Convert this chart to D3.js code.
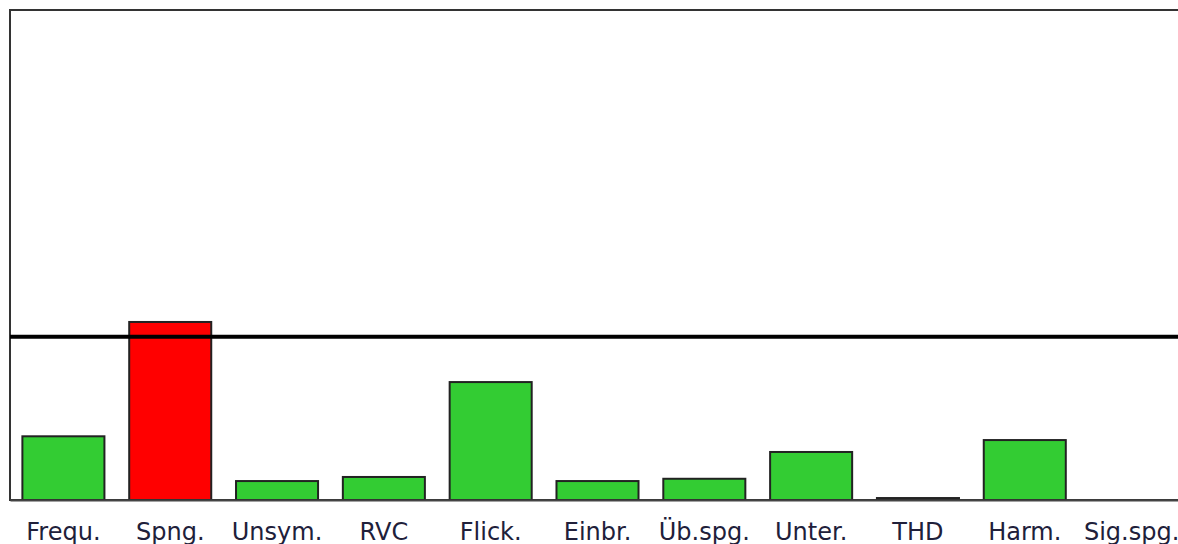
<!DOCTYPE html>
<html>
<head>
<meta charset="utf-8">
<script src="https://cdn.jsdelivr.net/npm/d3@7"></script>
<style>
  body { margin: 0; background: #fff; overflow: hidden; }
</style>
</head>
<body>
<div class="canvas"></div>
<script>
'use strict';

const categories = ['Frequ.', 'Spng.', 'Unsym.', 'RVC', 'Flick.', 'Einbr.', 'Üb.spg.', 'Unter.', 'THD', 'Harm.', 'Sig.spg.'];
const values = [0.39, 1.09, 0.116, 0.141, 0.722, 0.116, 0.13, 0.294, 0.012, 0.367, 0];
const limit = 1;
const yMax = 3;

const width = 1178;
const height = 544;
const margin = { top: 10, right: -7, bottom: 44, left: 10 };
const graphWidth = width - margin.left - margin.right;
const graphHeight = height - margin.top - margin.bottom;

const svg = d3
  .select('.canvas')
  .append('svg')
  .attr('width', width)
  .attr('height', height);

const graph = svg
  .append('g')
  .attr('transform', `translate(${margin.left},${margin.top})`);

const x = d3.scaleBand()
  .domain(categories)
  .range([0, graphWidth])
  .paddingInner(0.232)
  .paddingOuter(0.116);

const y = d3.scaleLinear().domain([0, yMax]).range([graphHeight, 0]);

// frame
graph.append('rect')
  .attr('x', 0)
  .attr('y', 0)
  .attr('width', graphWidth)
  .attr('height', graphHeight)
  .attr('fill', 'none')
  .attr('stroke', '#333')
  .attr('stroke-width', 2);

graph.selectAll('rect.bar')
  .data(values)
  .enter()
  .append('rect')
  .attr('class', 'bar')
  .attr('x', (d, i) => x(categories[i]))
  .attr('width', x.bandwidth())
  .attr('y', d => y(d))
  .attr('height', d => graphHeight - y(d))
  .attr('fill', d => d > limit ? '#ff0000' : '#33cc33')
  .attr('stroke', d => d > 0 ? '#222' : 'none')
  .attr('stroke-width', 2);

// limit line
graph.append('line')
  .attr('x1', 0)
  .attr('x2', graphWidth)
  .attr('y1', y(limit))
  .attr('y2', y(limit))
  .attr('stroke', '#000')
  .attr('stroke-width', 4);

// bottom axis
const xAxis = d3.axisBottom(x).tickSize(0).tickPadding(23);
const xAxisGroup = graph.append('g')
  .attr('transform', `translate(0, ${graphHeight})`)
  .call(xAxis);

xAxisGroup.select('.domain')
  .attr('stroke', '#444')
  .attr('stroke-width', 2);

xAxisGroup.selectAll('text')
  .style('font-family', 'Verdana, "DejaVu Sans", sans-serif')
  .style('font-size', '24px')
  .attr('fill', '#20203a');
</script>
</body>
</html>
